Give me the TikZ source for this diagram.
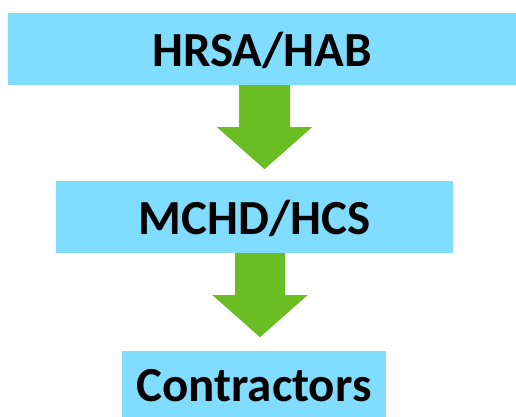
\documentclass[tikz,border=0pt]{standalone}
\usepackage{fontspec}
\setmainfont{Carlito}
\usetikzlibrary{calc}
\definecolor{boxblue}{RGB}{128,221,255}
\definecolor{arrgreen}{RGB}{106,190,36}
\begin{document}
\begin{tikzpicture}[x=1pt,y=1pt,
  box/.style={fill=boxblue,draw=none,inner sep=0pt,text height=40pt,text depth=4pt,font=\fontsize{49}{52}\selectfont\bfseries},
  bigarrow/.style={fill=arrgreen,draw=none}]
\useasboundingbox (0,0) rectangle (516,417);
\node[box,minimum width=508,minimum height=72] (b1) at (262,368) {HRSA/HAB};
\node[box,minimum width=397,minimum height=72] (b2) at (254.5,200) {MCHD/HCS};
\node[box,minimum width=264,minimum height=66] (b3) at (254,33) {Contractors};
\path (b1.south) ++(2.5,0) coordinate (a1);
\path (b2.south) ++(5.5,0) coordinate (a2);
\fill[bigarrow] ($(a1)+(-25.5,0)$) -- ++(51,0) -- ++(0,-42) -- ++(22,0) -- ($(a1)+(0,-84)$) -- ($(a1)+(-47.5,-42)$) -- ++(22,0) -- cycle;
\fill[bigarrow] ($(a2)+(-25,0)$) -- ++(50,0) -- ++(0,-42) -- ++(22.5,0) -- ($(a2)+(0,-84)$) -- ($(a2)+(-47.5,-42)$) -- ++(22.5,0) -- cycle;
\end{tikzpicture}
\end{document}
